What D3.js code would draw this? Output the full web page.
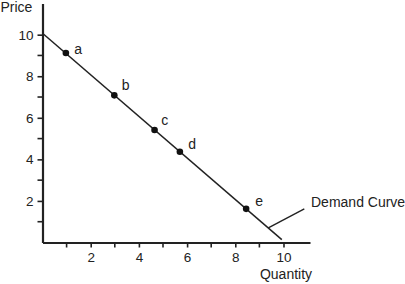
<!DOCTYPE html>
<html><head><meta charset="utf-8">
<script src="https://cdn.jsdelivr.net/npm/d3@7"></script>
<style>body{margin:0;background:#fff}svg{display:block}text{font-family:"Liberation Sans",Arial,sans-serif;fill:#222}</style>
</head><body><svg id="c" width="405" height="284"></svg>
<script>
const pointLabels = ["a","b","c","d","e"];
const quantities = [0.97, 2.98, 4.65, 5.7, 8.45];
const prices = [9.12, 7.08, 5.41, 4.37, 1.62];
const curveQ = [0, 9.93];
const curveP = [10.07, 0.14];
const xTicks = [2,4,6,8,10];
const yTicks = [2,4,6,8,10];
const minorTicks = [1,3,5,7,9];

// label placement (pixels, layout only)
const labelDx = [8.3, 7.4, 6.7, 8.3, 9];
const labelDy = [0.6, -5.7, -5.3, -3, -2.7];

const svg = d3.select("#c");
const x = d3.scaleLinear().domain([0, 11.1]).range([42.5, 310]);
const y = d3.scaleLinear().domain([0, 11.5]).range([242.5, 3.5]);
const ink = "#222";
const fs = "14px";
const tfs = "13.5px";

// axes
const xAxis = d3.axisBottom(x).tickValues(xTicks).tickSize(5).tickPadding(5).tickSizeOuter(0);
const gx = svg.append("g").attr("transform", `translate(0,${y(0)})`).call(xAxis);
gx.select(".domain").attr("stroke", ink).attr("stroke-width", 2.2);
gx.selectAll(".tick line").attr("stroke", ink).attr("stroke-width", 1.6);
gx.selectAll("text").style("font-size",tfs).attr("fill", ink);
gx.selectAll(".minor").data(minorTicks).enter().append("line")
  .attr("x1", d=>x(d)).attr("x2", d=>x(d)).attr("y1",0).attr("y2",5)
  .attr("stroke", ink).attr("stroke-width",1.6);

const yAxis = d3.axisLeft(y).tickValues(yTicks).tickSize(5).tickPadding(4).tickSizeOuter(0);
const gy = svg.append("g").attr("transform", `translate(${x(0)},0)`).call(yAxis);
gy.select(".domain").attr("stroke", ink).attr("stroke-width", 2.2);
gy.selectAll(".tick line").attr("stroke", ink).attr("stroke-width", 1.6);
gy.selectAll("text").style("font-size",tfs).attr("fill", ink);
gy.selectAll(".minor").data(minorTicks).enter().append("line")
  .attr("x1", 0).attr("x2", -5).attr("y1", d=>y(d)).attr("y2", d=>y(d))
  .attr("stroke", ink).attr("stroke-width",1.6);

// axis titles
svg.append("text").attr("x", 0.5).attr("y", 11.5).style("font-size",fs).text("Price");
svg.append("text").attr("x", 286).attr("y", 278.5).attr("text-anchor","middle").style("font-size",fs).text("Quantity");

// demand curve
const line = d3.line().x(d=>x(d[0])).y(d=>y(d[1]));
svg.append("path").datum(curveQ.map((q,i)=>[q, curveP[i]]))
  .attr("d", line).attr("fill","none").attr("stroke", ink).attr("stroke-width", 1.5);

// points
const pts = pointLabels.map((l,i)=>({l, q: quantities[i], p: prices[i], dx: labelDx[i], dy: labelDy[i]}));
svg.selectAll("circle.pt").data(pts).enter().append("circle")
  .attr("cx", d=>x(d.q)).attr("cy", d=>y(d.p)).attr("r", 3.3).attr("fill", "#111");
svg.selectAll("text.pl").data(pts).enter().append("text")
  .attr("x", d=>x(d.q)+d.dx).attr("y", d=>y(d.p)+d.dy)
  .style("font-size",fs).text(d=>d.l);

// Demand curve label with leader
const lq = 9.37;
const lx = x(lq), ly = y(curveP[0] + (curveP[1]-curveP[0]) * (lq - curveQ[0]) / (curveQ[1]-curveQ[0]));
svg.append("line").attr("x1", lx).attr("y1", ly).attr("x2", lx+36).attr("y2", ly-19)
  .attr("stroke", ink).attr("stroke-width", 1.4);
svg.append("text").attr("x", 311).attr("y", 207).style("font-size",fs).text("Demand Curve");
</script></body></html>
